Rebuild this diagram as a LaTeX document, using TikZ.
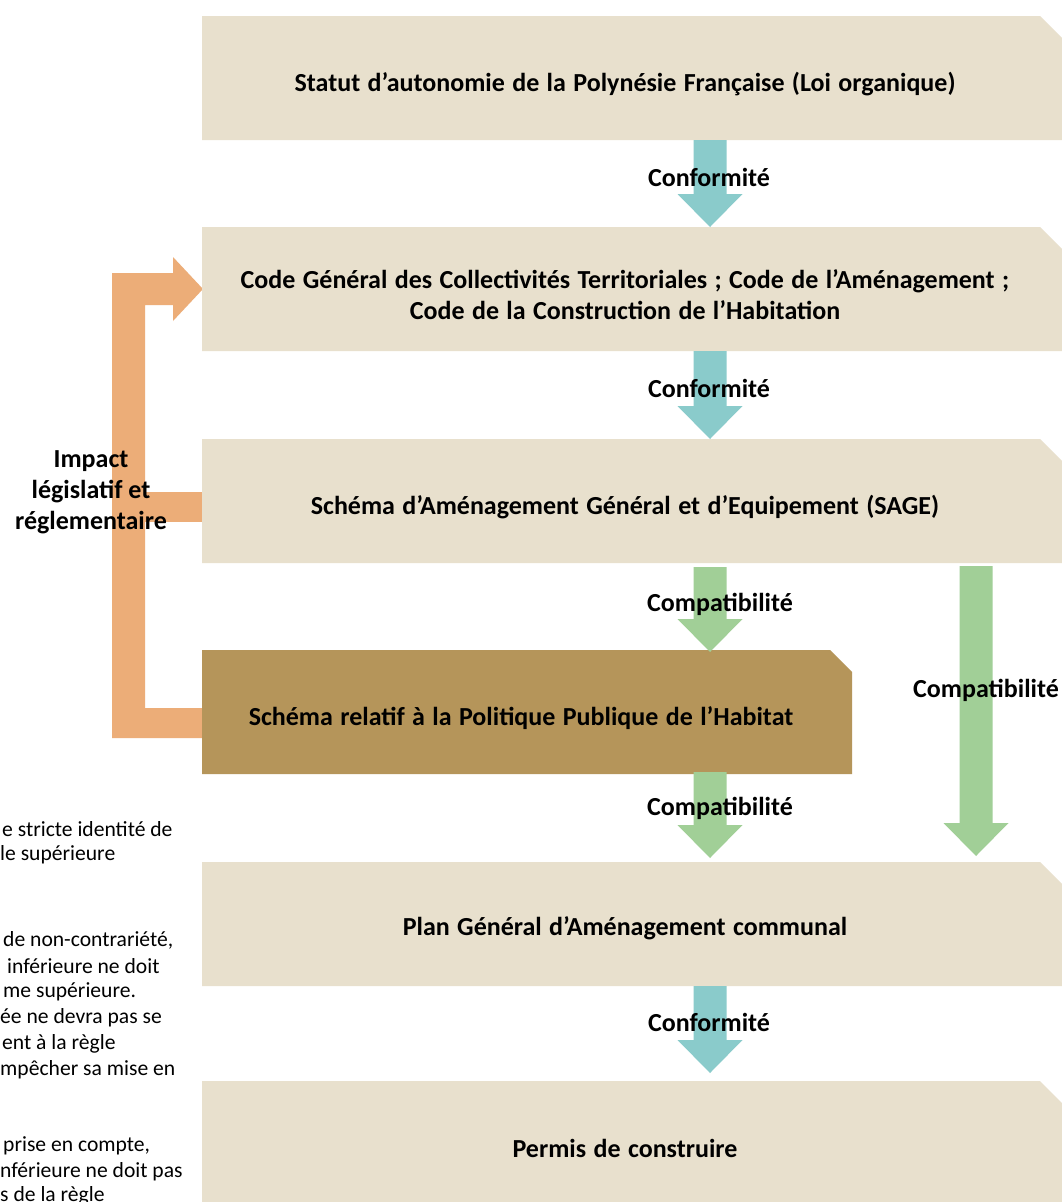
\documentclass[tikz,border=0pt]{standalone}
\usepackage{fontspec}
\setmainfont{Carlito}
\usetikzlibrary{calc}
\definecolor{beige}{RGB}{232,224,205}
\definecolor{brownbox}{RGB}{181,149,90}
\definecolor{tealarr}{RGB}{138,203,203}
\definecolor{greenarr}{RGB}{161,207,151}
\definecolor{orangearr}{RGB}{236,173,120}
\newcommand{\boxfont}{\fontsize{26}{31}\selectfont\bfseries\spaceskip=7.4pt plus 2pt minus 1pt\relax}
\tikzset{
  boxnode/.style={rectangle, inner sep=0pt, outer sep=0pt},
  boxlabel/.style={font=\boxfont, align=center, inner sep=0pt},
  implabel/.style={font=\fontsize{26}{31}\selectfont\bfseries, align=center, inner sep=0pt},
  arrlabel/.style={font=\fontsize{26}{31}\selectfont\bfseries, inner sep=0pt},
  sidetext/.style={font=\fontsize{21.6}{26}\selectfont, anchor=west, inner sep=0pt},
}
% name, colour, x1, y1, x2, y2
\newcommand{\chbox}[6]{%
  \node[boxnode, minimum width={#5-#3}, minimum height={#6-#4}] (#1) at ({(#3+#5)/2},{(#4+#6)/2}) {};
  \fill[#2] (#1.south west) -- (#1.north west) -- ([xshift=-22pt]#1.north east)
     -- ([yshift=-22pt]#1.north east) -- (#1.south east) -- cycle;}
% colour, start, tip
\newcommand{\blockarrow}[3]{%
  \fill[#1] let \p1=#2, \p2=#3 in
   (\x1-16.5pt,\y1) -- (\x1+16.5pt,\y1) -- (\x1+16.5pt,\y2+33pt) -- (\x1+32.5pt,\y2+33pt)
   -- (\x2,\y2) -- (\x1-32.5pt,\y2+33pt) -- (\x1-16.5pt,\y2+33pt) -- cycle;}
\begin{document}
\begin{tikzpicture}[x=1pt,y=-1pt]
\useasboundingbox (0,0) rectangle (1062,1202);
\fill[white] (0,0) rectangle (1062,1202);

% orange feedback arrow
\fill[orangearr] (112,738) -- (112,273) -- (173,273) -- (173,257) -- (203,289)
  -- (173,321) -- (173,305) -- (145,305) -- (145,708) -- (202,708) -- (202,738) -- cycle;
\fill[orangearr] (145,492) rectangle (202,522);

% boxes
\chbox{b1}{beige}{202}{16}{1062}{140}
\chbox{b2}{beige}{202}{227}{1062}{351}
\chbox{b3}{beige}{202}{439}{1062}{563}
\chbox{b4}{brownbox}{202}{650}{852}{774}
\chbox{b5}{beige}{202}{862}{1062}{986}
\chbox{b6}{beige}{202}{1081}{1062}{1204}

\coordinate (ax) at (710,0);
\coordinate (rx) at (976,0);

% arrows
\blockarrow{tealarr}{(ax |- b1.south)}{(ax |- b2.north)}
\blockarrow{tealarr}{(ax |- b2.south)}{(ax |- b3.north)}
\blockarrow{greenarr}{([yshift=-4pt]ax |- b3.south)}{([yshift=-2pt]ax |- b4.north)}
\blockarrow{greenarr}{([yshift=2pt]ax |- b4.south)}{([yshift=4pt]ax |- b5.north)}
\blockarrow{greenarr}{([yshift=-3pt]rx |- b3.south)}{([yshift=6pt]rx |- b5.north)}
\blockarrow{tealarr}{(ax |- b5.south)}{([yshift=8pt]ax |- b6.north)}

% box labels
\node[boxlabel] (t1) at (625,84) {Statut d’autonomie de la Polynésie Française (Loi organique)};
\node[boxlabel] (t2) at (625,295) {Code Général des Collectivités Territoriales ; Code de l’Aménagement ;\\Code de la Construction de l’Habitation};
\node[boxlabel] (t3) at (625,507) {Schéma d’Aménagement Général et d’Equipement (SAGE)};
\node[boxlabel] (t4) at (521,718) {Schéma relatif à la Politique Publique de l’Habitat};
\node[boxlabel] (t5) at (625,928) {Plan Général d’Aménagement communal};
\node[boxlabel] (t6) at (625,1148) {Permis de construire};

% arrow labels
\node[arrlabel] (c1) at (709,177) {Conformité};
\node[arrlabel] (c2) at (709,388) {Conformité};
\node[arrlabel] (c3) at (720,604) {Compatibilité};
\node[arrlabel] (c4) at (720,808) {Compatibilité};
\node[arrlabel] (c5) at (986,690) {Compatibilité};
\node[arrlabel] (c6) at (709,1022) {Conformité};

\node[implabel] (imp) at (91,492) {Impact\\législatif et\\réglementaire};

% truncated side text
\node[sidetext] (s1) at (2,829) {e stricte identité de};
\node[sidetext] (s2) at (0,855) {le supérieure};
\node[sidetext] (s3) at (3,940) {de non-contrariété,};
\node[sidetext] (s4) at (7,966) {inférieure ne doit};
\node[sidetext] (s5) at (3,992) {me supérieure.};
\node[sidetext] (s6) at (0,1018) {ée ne devra pas se};
\node[sidetext] (s7) at (2,1044) {ent à la règle};
\node[sidetext] (s8) at (0,1070) {mpêcher sa mise en};
\node[sidetext] (s9) at (3,1146) {prise en compte,};
\node[sidetext] (s10) at (0,1172) {nférieure ne doit pas};
\node[sidetext] (s11) at (0,1196) {s de la règle};
\end{tikzpicture}
\end{document}
